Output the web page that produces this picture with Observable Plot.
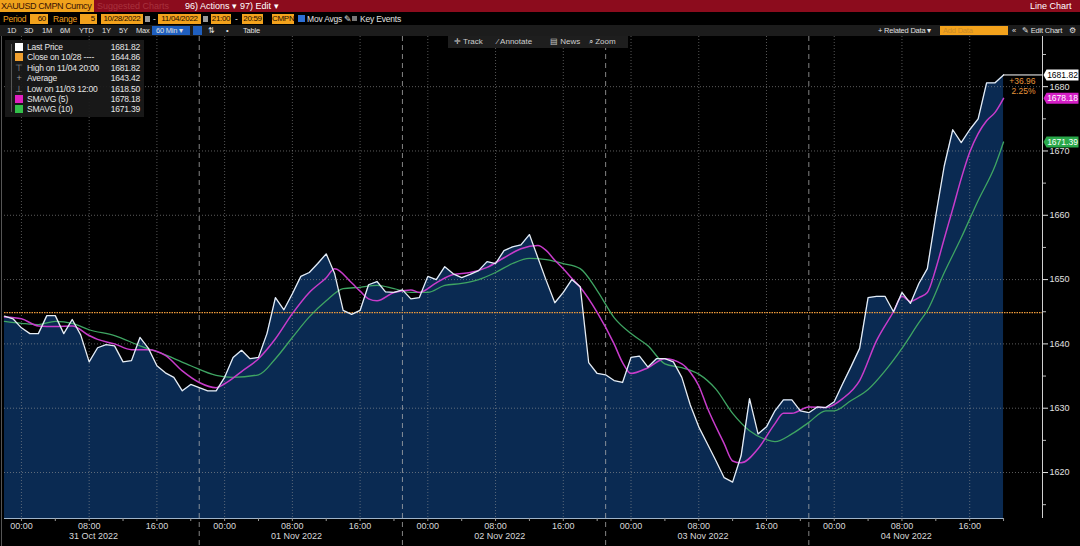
<!DOCTYPE html>
<html>
<head>
<meta charset="utf-8">
<script src="https://cdn.jsdelivr.net/npm/d3@7"></script>
<script src="https://cdn.jsdelivr.net/npm/@observablehq/plot@0.6"></script>
<style>
  html,body{margin:0;padding:0;background:#000;}
  #wrap{position:relative;width:1080px;height:546px;overflow:hidden;background:#000;
    font-family:"Liberation Sans",Arial,sans-serif;}
  .a{position:absolute;white-space:nowrap;line-height:1;}
  .row1{left:0;top:0;width:1080px;height:12px;background:#8c0c1d;}
  .row2{left:0;top:12px;width:1080px;height:13px;background:#000;}
  .row3{left:0;top:25px;width:1080px;height:11px;background:#1c1c1c;}
  .ob{position:absolute;top:14px;height:10px;background:#f3a21c;color:#1a0c00;font-size:8px;letter-spacing:-0.3px;line-height:10px;text-align:right;padding-right:2px;box-sizing:border-box;}
  .ol{position:absolute;top:14px;color:#f3a21c;font-size:8.5px;letter-spacing:-0.2px;line-height:10px;}
  .w3{position:absolute;top:26px;color:#e0e0e0;font-size:7.5px;letter-spacing:-0.2px;line-height:9px;}
  #chart{position:absolute;left:0;top:36px;}
  #legend{position:absolute;left:5px;top:40px;width:139px;height:77px;background:rgba(26,26,26,0.93);}
  #legend .r{position:absolute;left:0;width:139px;height:10px;font-size:8.5px;letter-spacing:-0.2px;line-height:10px;color:#e6e6e6;}
  #legend .sq{position:absolute;left:10px;top:1px;width:8px;height:8px;}
  #legend .g{position:absolute;left:10px;top:0;width:8px;text-align:center;color:#9a9a9a;font-size:9px;}
  #legend .lab{position:absolute;left:22px;}
  #legend .val{position:absolute;right:4px;}
  #tools{position:absolute;left:448px;top:36px;width:180px;height:12px;background:#1e1e1e;color:#cfcfcf;font-size:8px;line-height:12px;}
  #tools span{position:absolute;top:0;}
</style>
</head>
<body>
<div id="wrap">
  <div class="a row1"></div>
  <div class="a" style="left:0;top:0;width:94px;height:12px;background:#f0a21c;overflow:hidden;">
    <span class="a" style="left:1px;top:1.5px;font-size:9px;letter-spacing:-0.4px;color:#3a1206;">XAUUSD CMPN Curncy</span>
  </div>
  <span class="a" style="left:97px;top:1.5px;font-size:9px;color:#a8323e;">Suggested Charts</span>
  <span class="a" style="left:185px;top:1.5px;font-size:9px;color:#fff;">96) Actions ▾</span>
  <span class="a" style="left:240px;top:1.5px;font-size:9px;color:#fff;">97) Edit ▾</span>
  <span class="a" style="left:1030px;top:1.5px;font-size:9px;color:#fff;">Line Chart</span>

  <div class="a row2"></div>
  <span class="ol" style="left:3px;">Period</span>
  <div class="ob" style="left:30px;width:18px;">60</div>
  <span class="ol" style="left:53px;">Range</span>
  <div class="ob" style="left:80px;width:17px;">5</div>
  <div class="ob" style="left:101px;width:42px;text-align:center;padding:0;">10/28/2022</div>
  <div class="a" style="left:145px;top:16px;width:5px;height:6px;background:#9a9a9a;"></div>
  <span class="ol" style="left:153px;color:#ddd;">-</span>
  <div class="ob" style="left:158px;width:43px;text-align:center;padding:0;">11/04/2022</div>
  <div class="a" style="left:203px;top:16px;width:5px;height:6px;background:#9a9a9a;"></div>
  <div class="ob" style="left:211px;width:20px;text-align:center;padding:0;">21:00</div>
  <span class="ol" style="left:235px;color:#ddd;">-</span>
  <div class="ob" style="left:242px;width:21px;text-align:center;padding:0;">20:59</div>
  <div class="ob" style="left:272px;width:22px;text-align:center;padding:0;">CMPN</div>
  <div class="a" style="left:298px;top:15px;width:7px;height:7px;background:#2d6fd6;"></div>
  <span class="ol" style="left:307px;color:#e0e0e0;">Mov Avgs ✎</span>
  <div class="a" style="left:352px;top:16px;width:5px;height:5px;background:#777;"></div>
  <span class="ol" style="left:360px;color:#e0e0e0;">Key Events</span>

  <div class="a row3"></div>
  <span class="w3" style="left:7px;">1D</span>
  <span class="w3" style="left:24px;">3D</span>
  <span class="w3" style="left:42px;">1M</span>
  <span class="w3" style="left:60px;">6M</span>
  <span class="w3" style="left:79px;">YTD</span>
  <span class="w3" style="left:102px;">1Y</span>
  <span class="w3" style="left:119px;">5Y</span>
  <span class="w3" style="left:136px;">Max</span>
  <div class="a" style="left:152px;top:26px;width:38px;height:9px;background:#1f5fbf;"></div>
  <span class="w3" style="left:156px;">60 Min ▾</span>
  <div class="a" style="left:193px;top:26px;width:9px;height:9px;background:#1f5fbf;"></div>
  <span class="w3" style="left:208px;">⇅</span>
  <span class="w3" style="left:226px;">•</span>
  <span class="w3" style="left:243px;">Table</span>
  <span class="w3" style="left:878px;">+ Related Data ▾</span>
  <div class="a" style="left:940px;top:26px;width:68px;height:9px;background:#f3a21c;"></div>
  <span class="w3" style="left:943px;color:#c98a2a;">Add Data</span>
  <span class="w3" style="left:1012px;">«</span>
  <span class="w3" style="left:1022px;">✎ Edit Chart</span>
  <span class="w3" style="left:1069px;">⚙</span>

  <div id="chart"></div>
  <div class="a" style="left:1px;top:36px;width:1px;height:510px;background:#555;"></div>

  <div id="tools">
    <span style="left:6px;">✛ Track</span>
    <span style="left:49px;">⁄ Annotate</span>
    <span style="left:102px;">▤ News</span>
    <span style="left:141px;">⌕ Zoom</span>
  </div>

  <div id="legend"></div>
</div>

<script>
// ---- data (hourly bars, 30 Oct 22:00 → 04 Nov 20:00) ----
const firstBar = "2022-10-30T22:00:00Z";
const price = [
  1644.3,1643.9,1642.5,1641.6,1641.6,1644.4,1644.4,1641.6,1643.8,1641.4,
  1637.2,1639.4,1639.9,1639.7,1637.2,1637.4,1641.0,1639.3,1636.6,1635.5,
  1634.8,1632.7,1633.7,1633.2,1632.7,1632.7,1634.8,1637.9,1639.0,1637.7,
  1637.9,1641.6,1647.2,1645.3,1647.8,1650.5,1651.1,1652.5,1654.0,1650.9,
  1645.2,1644.6,1645.2,1649.2,1649.7,1648.1,1648.0,1648.4,1647.0,1647.2,
  1650.5,1650.0,1652.0,1650.9,1650.3,1650.8,1651.4,1652.8,1652.5,1654.5,
  1655.1,1655.4,1657.0,1653.4,1649.8,1646.4,1648.0,1650.0,1648.9,1637.1,
  1635.4,1635.2,1634.3,1634.0,1637.9,1638.1,1636.4,1637.7,1637.7,1637.2,
  1634.8,1630.5,1627.1,1624.5,1621.9,1619.2,1618.5,1622.6,1631.5,1626.0,
  1627.1,1629.6,1631.3,1631.3,1629.6,1629.3,1630.2,1630.1,1631.0,1633.8,
  1636.5,1639.3,1647.2,1647.4,1647.4,1645.0,1648.0,1646.3,1649.4,1651.7,
  1660.0,1667.7,1673.3,1671.3,1673.3,1675.0,1680.6,1680.6,1681.82
];
// SMAVG(5) read at these bar numbers
const ma5Bars = [0,2,4,6,8,10,11,13,15,17,19,21,23,25,26,28,30,32,34,36,38,39,41,42,43,44,46,48,49,51,53,55,57,59,61,63,64,65,66,67,68,70,72,73,74,76,78,80,81,82,83,85,86,87,89,91,92,93,95,97,99,101,103,105,106,107,108,109,110,111,112,113,114,115,116,117,118];
const ma5Values = [1644.2,1643.9,1642.8,1642.7,1642.8,1641.3,1640.7,1640.0,1639.1,1639.1,1638.2,1635.8,1634.0,1633.2,1633.8,1635.7,1637.7,1640.8,1644.7,1648.0,1650.3,1651.7,1649.5,1648.2,1647.0,1646.7,1648.0,1648.4,1648.0,1649.5,1650.8,1651.1,1651.9,1653.4,1654.8,1655.3,1654.5,1653.0,1651.7,1650.2,1648.8,1644.9,1640.0,1637.1,1635.4,1636.3,1637.7,1636.9,1635.6,1633.5,1630.1,1624.5,1621.8,1621.5,1623.7,1627.6,1629.2,1629.2,1630.2,1630.1,1631.5,1634.3,1640.5,1645.0,1647.4,1646.6,1647.2,1648.0,1651.7,1656.4,1661.0,1665.7,1669.8,1672.7,1674.7,1676.0,1678.18];
// SMAVG(10) read at these bar numbers
const ma10Bars = [0,2,4,6,8,10,13,16,19,22,25,27,30,32,34,36,38,40,42,44,46,48,50,52,54,56,58,60,62,64,66,68,70,72,74,76,78,80,82,84,86,88,90,91,93,95,97,98,100,102,104,106,108,109,111,113,115,117,118];
const ma10Values = [1643.5,1643.2,1643.0,1643.5,1643.2,1642.2,1641.3,1639.7,1638.3,1636.6,1635.1,1634.8,1635.2,1637.7,1641.0,1644.2,1646.7,1648.6,1648.8,1649.1,1648.6,1648.0,1648.0,1649.1,1649.4,1650.0,1651.1,1652.5,1653.3,1653.1,1652.5,1651.7,1648.3,1644.1,1641.6,1639.7,1636.9,1636.3,1635.3,1633.0,1629.2,1626.5,1625.1,1624.8,1626.0,1627.8,1629.6,1629.6,1631.2,1632.9,1635.8,1639.3,1643.3,1645.2,1651.1,1656.5,1662.3,1667.7,1671.39];

const closeValue = 1644.86;
const yTicks = [1620,1630,1640,1650,1660,1670,1680];
const yMinorTicks = [1615,1625,1635,1645,1655,1665,1675,1685];
const dayLabels = ["31 Oct 2022","01 Nov 2022","02 Nov 2022","03 Nov 2022","04 Nov 2022"];
const dayCenters = ["2022-10-31T08:30Z","2022-11-01T08:30Z","2022-11-02T08:30Z","2022-11-03T08:30Z","2022-11-04T08:30Z"];
const sessionBreaks = ["2022-10-31T21:00Z","2022-11-01T21:00Z","2022-11-02T21:00Z","2022-11-03T21:00Z"];
const tagValues = [1681.82, 1678.18, 1671.39];
const tagFills = ["#ffffff", "#d41ec6", "#2aa84a"];
const tagInk = ["#000000", "#ffffff", "#ffffff"];
const changeText = ["+36.96", "2.25%"];

const legendLabels = ["Last Price","Close on 10/28 ----","High on 11/04 20:00","Average","Low on 11/03 12:00","SMAVG (5)","SMAVG (10)"];
const legendValues = ["1681.82","1644.86","1681.82","1643.42","1618.50","1678.18","1671.39"];
const legendKeys = ["#ffffff","#f0a030",null,null,null,"#e020c0","#33c04a"];
const legendGlyphs = [null,null,"⊤","+","⊥",null,null];

// ---- build ----
const H = 3600e3;
const t0 = new Date(firstBar).getTime();
const series = price.map((p, i) => ({t: new Date(t0 + i * H), p}));
const ma5 = ma5Bars.map((b, i) => ({t: new Date(t0 + b * H), v: ma5Values[i]}));
const ma10 = ma10Bars.map((b, i) => ({t: new Date(t0 + b * H), v: ma10Values[i]}));
const last = series[series.length - 1];
const xDomain = [new Date(t0), new Date(t0 + 122.6 * H)];
const yDomain = [1612.85, 1687.8];
const gridTimes = d3.utcHour.every(8).range(new Date("2022-10-31T00:00Z"), new Date("2022-11-05T00:00Z"));
const minorTimes = d3.utcHour.every(4).range(new Date("2022-10-31T00:00Z"), new Date("2022-11-05T00:00Z"));
const days = dayLabels.map((label, i) => ({t: new Date(dayCenters[i]), label}));
const tags = tagValues.map((v, i) => ({v, bg: tagFills[i], fg: tagInk[i]}));
const changes = changeText.map((text, i) => ({text, i}));
const tagSymbol = {draw(ctx) {
  ctx.moveTo(-18, 0); ctx.lineTo(-15, -5.5); ctx.lineTo(17, -5.5);
  ctx.lineTo(17, 5.5); ctx.lineTo(-15, 5.5); ctx.closePath();
}};
const font = '"Liberation Sans",Arial,sans-serif';

const chart = Plot.plot({
  width: 1080,
  height: 510,
  marginTop: 0,
  marginBottom: 28,
  marginLeft: 4,
  marginRight: 38,
  style: {background: "#000", color: "#d8d8d8", fontSize: "9px", fontFamily: font},
  x: {type: "utc", domain: xDomain, axis: null},
  y: {domain: yDomain, axis: null},
  color: {type: "identity"},
  marks: [
    Plot.areaY(series, {x: "t", y1: yDomain[0], y2: "p", fill: "#0a2a52"}),
    Plot.gridY(yTicks, {stroke: "#9a9a9a", strokeOpacity: 0.6, strokeDasharray: "1,2"}),
    Plot.gridX(gridTimes, {stroke: "#9a9a9a", strokeOpacity: 0.55, strokeDasharray: "1,2"}),
    Plot.ruleX(sessionBreaks.map(d => new Date(d)), {stroke: "#b0b0b0", strokeOpacity: 0.75, strokeDasharray: "5,4", insetBottom: -28}),
    Plot.ruleY([closeValue], {stroke: "#ee9a3a", strokeDasharray: "1.5,1", strokeWidth: 1.2}),
    Plot.ruleY([yDomain[0]], {x1: series[0].t, x2: last.t, stroke: "#9fb3c8", strokeWidth: 1.2}),
    Plot.ruleX([xDomain[1]], {stroke: "#d0d0d0"}),
    Plot.line(ma10, {x: "t", y: "v", stroke: "#3fa563", strokeWidth: 1.3, curve: "monotone-x"}),
    Plot.line(ma5, {x: "t", y: "v", stroke: "#c83ccb", strokeWidth: 1.5, curve: "monotone-x"}),
    Plot.line(series, {x: "t", y: "p", stroke: "#e6edf5", strokeWidth: 1.3}),
    Plot.ruleY([last], {y: "p", x1: "t", x2: () => xDomain[1], stroke: "#ffffff"}),
    Plot.axisY(yMinorTicks, {anchor: "right", label: null, tickSize: 3, tickFormat: () => "", stroke: "#bbb"}),
    Plot.axisY(yTicks, {anchor: "right", label: null, tickSize: 5, tickPadding: 2, tickFormat: d => String(d), fill: "#e0e0e0", stroke: "#e0e0e0", fontSize: 9}),
    Plot.axisX(minorTimes, {anchor: "bottom", label: null, tickSize: 3, tickFormat: () => "", stroke: "#999"}),
    Plot.axisX(gridTimes, {anchor: "bottom", label: null, tickSize: 0, tickPadding: 4, tickFormat: d3.utcFormat("%H:%M"), fill: "#d8d8d8", fontSize: 9}),
    Plot.text(days, {x: "t", text: "label", frameAnchor: "bottom", dy: 20, fill: "#d8d8d8", fontSize: 9}),
    Plot.text(changes, {y: () => last.p, text: "text", frameAnchor: "right", textAnchor: "end", dx: -7, fill: "#e8963a", fontSize: 8.5, filter: d => d.i === 0, dy: 6.5}),
    Plot.text(changes, {y: () => last.p, text: "text", frameAnchor: "right", textAnchor: "end", dx: -7, fill: "#e8963a", fontSize: 8.5, filter: d => d.i === 1, dy: 16.5}),
    Plot.dot(tags, {y: "v", frameAnchor: "right", dx: 19, symbol: tagSymbol, fill: "bg", stroke: null}),
    Plot.text(tags, {y: "v", text: d => d.v.toFixed(2), frameAnchor: "right", textAnchor: "middle", dx: 20, fill: "fg", fontSize: 8.5})
  ]
});
document.getElementById("chart").appendChild(chart);

// legend
const lg = document.getElementById("legend");
lg.innerHTML = '<div style="position:absolute;left:6px;top:4px;width:1px;height:68px;background:#555;"></div>' +
  legendLabels.map((lab, i) => {
    const key = legendKeys[i]
      ? `<div class="sq" style="background:${legendKeys[i]}"></div>`
      : `<div class="g">${legendGlyphs[i]}</div>`;
    return `<div class="r" style="top:${2 + i * 10.4}px">${key}<span class="lab">${lab}</span><span class="val">${legendValues[i]}</span></div>`;
  }).join("");
</script>
</body>
</html>
